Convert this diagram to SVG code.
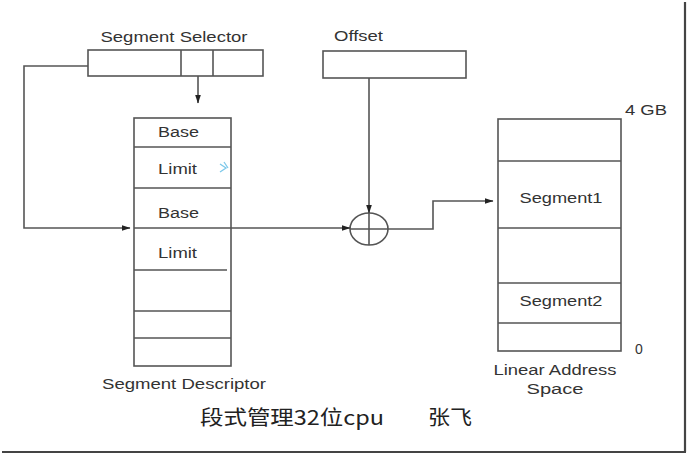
<svg xmlns="http://www.w3.org/2000/svg" width="688" height="455" viewBox="0 0 688 455">
<style>
.box{fill:#fff;stroke:#555;stroke-width:1.6}
.ln{fill:none;stroke:#555;stroke-width:1.6}
.t{font-family:"Liberation Sans",Arial,sans-serif;font-size:14px;fill:#333}
.m{text-anchor:middle}
.cn{font-family:"Noto Sans CJK SC","Liberation Sans",sans-serif;font-size:20px;fill:#222}
</style>
<defs>
<marker id="ah" markerWidth="9" markerHeight="7" refX="8.5" refY="3.5" orient="auto" markerUnits="userSpaceOnUse">
<path d="M0,0.5 L9,3.5 L0,6.5 Z" fill="#222"/>
</marker>
</defs>
<rect x="0" y="0" width="688" height="455" fill="#fff"/>
<g id="frame">
<line x1="685" y1="2" x2="685" y2="452" stroke="#444" stroke-width="2.2"/>
<line x1="2" y1="452" x2="686" y2="452" stroke="#444" stroke-width="2.2"/>
</g>
<g id="selector">
<text class="t m" x="174" y="42" textLength="147" lengthAdjust="spacingAndGlyphs">Segment Selector</text>
<rect class="box" x="88" y="50" width="175" height="26"/>
<line class="ln" x1="181" y1="50" x2="181" y2="76"/>
<line class="ln" x1="213" y1="50" x2="213" y2="76"/>
</g>
<g id="offset">
<text class="t" x="334" y="41" textLength="49" lengthAdjust="spacingAndGlyphs">Offset</text>
<rect class="box" x="323" y="51" width="143" height="27"/>
</g>
<g id="descriptor">
<rect class="box" x="134" y="118" width="97" height="248"/>
<line class="ln" x1="134" y1="147" x2="231" y2="147"/>
<line class="ln" x1="134" y1="188" x2="231" y2="188"/>
<line class="ln" x1="134" y1="228" x2="231" y2="228"/>
<line class="ln" x1="134" y1="270" x2="227" y2="270"/>
<line class="ln" x1="134" y1="311" x2="231" y2="311"/>
<line class="ln" x1="134" y1="338" x2="231" y2="338"/>
<text class="t" x="158" y="137" textLength="41" lengthAdjust="spacingAndGlyphs">Base</text>
<text class="t" x="158" y="174" textLength="39" lengthAdjust="spacingAndGlyphs">Limit</text>
<text class="t" x="158" y="218" textLength="41" lengthAdjust="spacingAndGlyphs">Base</text>
<text class="t" x="158" y="258" textLength="39" lengthAdjust="spacingAndGlyphs">Limit</text>
<path d="M220,164 L226,168 L220,172 M224,162 L228,168" fill="none" stroke="#7cc8ea" stroke-width="1.3"/>
<text class="t m" x="184" y="389" textLength="164" lengthAdjust="spacingAndGlyphs">Segment Descriptor</text>
</g>
<g id="adder">
<ellipse class="ln" cx="369" cy="229" rx="19" ry="16"/>
<line class="ln" x1="369" y1="213" x2="369" y2="245"/>
<line class="ln" x1="350" y1="229" x2="388" y2="229"/>
</g>
<g id="linear">
<rect class="box" x="498" y="119" width="123" height="232"/>
<line class="ln" x1="498" y1="161" x2="621" y2="161"/>
<line class="ln" x1="498" y1="228" x2="621" y2="228"/>
<line class="ln" x1="498" y1="283" x2="621" y2="283"/>
<line class="ln" x1="498" y1="323" x2="621" y2="323"/>
<text class="t m" x="561" y="203" textLength="83" lengthAdjust="spacingAndGlyphs">Segment1</text>
<text class="t m" x="561" y="306" textLength="83" lengthAdjust="spacingAndGlyphs">Segment2</text>
<text class="t" x="625" y="115" textLength="42" lengthAdjust="spacingAndGlyphs">4 GB</text>
<text class="t" x="635" y="354">0</text>
<text class="t m" x="555" y="375" textLength="123" lengthAdjust="spacingAndGlyphs">Linear Address</text>
<text class="t m" x="555" y="394" textLength="57" lengthAdjust="spacingAndGlyphs">Space</text>
</g>
<g id="connectors">
<path class="ln" d="M88,66 H24 V228 H130" marker-end="url(#ah)"/>
<path class="ln" d="M198,76 V103" marker-end="url(#ah)"/>
<path class="ln" d="M231,228 H350" marker-end="url(#ah)"/>
<path class="ln" d="M369,78 V213" marker-end="url(#ah)"/>
<path class="ln" d="M388,229 H433 V201 H493" marker-end="url(#ah)"/>
</g>
<g id="caption">
<text class="cn" x="200" y="425" textLength="184" lengthAdjust="spacingAndGlyphs">段式管理32位cpu</text>
<text class="cn" x="428" y="425" textLength="44" lengthAdjust="spacingAndGlyphs">张飞</text>
</g>
</svg>
